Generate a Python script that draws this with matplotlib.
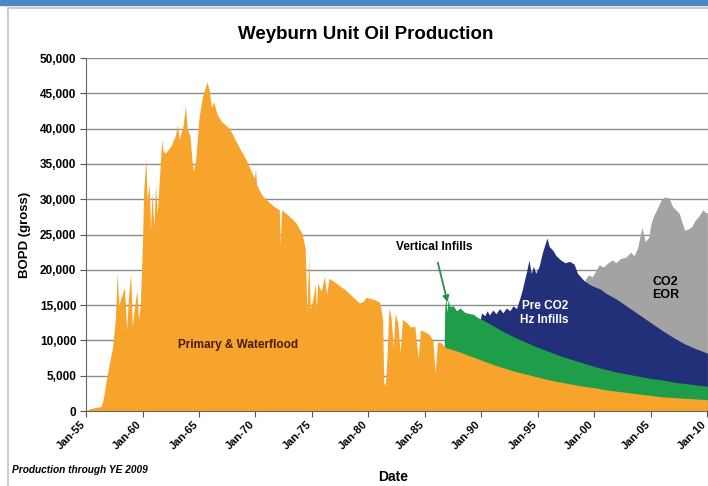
import matplotlib
matplotlib.use('Agg')
from matplotlib import pyplot as plt
from matplotlib.patches import Rectangle
from matplotlib.lines import Line2D
import matplotlib.transforms as mtransforms

plt.rcParams['font.family'] = ['Liberation Sans', 'DejaVu Sans']

# primary & waterflood (BOPD), decimal years
primary_yr = [1955.0, 1955.3, 1955.8, 1956.3, 1956.5, 1956.8, 1957.1, 1957.35, 1957.6, 1957.75,
              1957.9, 1958.1, 1958.4, 1958.6, 1958.75, 1958.95, 1959.1, 1959.3, 1959.5, 1959.65,
              1959.8, 1960.0, 1960.1, 1960.3, 1960.4, 1960.6, 1960.7, 1960.85, 1961.0, 1961.15,
              1961.3, 1961.5, 1961.7, 1961.8, 1962.0, 1962.5, 1962.9, 1963.1, 1963.25, 1963.6,
              1963.8, 1963.95, 1964.2, 1964.35, 1964.5, 1964.7, 1965.0, 1965.3, 1965.7, 1965.9,
              1966.1, 1966.3, 1966.6, 1967.0, 1967.7, 1968.5, 1969.2, 1969.6, 1969.9, 1970.0,
              1970.1, 1970.6, 1971.0, 1971.6, 1972.1, 1972.2, 1972.3, 1972.7, 1973.2, 1973.6,
              1974.1, 1974.4, 1974.55, 1974.7, 1974.85, 1975.1, 1975.3, 1975.4, 1975.5, 1975.8,
              1976.1, 1976.3, 1976.5, 1976.8, 1977.4, 1978.0, 1978.6, 1979.2, 1979.5, 1979.8,
              1980.5, 1981.0, 1981.25, 1981.35, 1981.5, 1981.65, 1981.8, 1982.0, 1982.2, 1982.35,
              1982.6, 1982.8, 1983.0, 1983.4, 1983.7, 1984.1, 1984.4, 1984.6, 1985.0, 1985.4,
              1985.7, 1985.9, 1986.1, 1986.5, 1986.7,
              1987, 1988, 1989, 1990, 1991, 1992, 1993, 1994, 1995, 1996, 1997, 1998,
              1999, 2000, 2001, 2002, 2003, 2004, 2005, 2006, 2007, 2008, 2009, 2010]
primary_bopd = [0, 300, 500, 600, 1500, 4400, 7000, 9000, 13000, 19500,
                15000, 16000, 17500, 11500, 16000, 19500, 12000, 15000, 17000, 13000,
                15000, 24000, 31000, 35800, 30000, 32000, 25500, 31000, 26000, 32000,
                28000, 33000, 38500, 37000, 36500, 37500, 39000, 40500, 38500, 40500,
                43300, 40000, 39000, 36000, 34000, 35500, 41500, 44500, 46600, 45500,
                43000, 43800, 42000, 41000, 40000, 37500, 35500, 34000, 33000, 34300,
                32000, 30500, 29900, 29000, 28500, 23500, 28500, 28000, 27300, 26600,
                25200, 23000, 14000, 21700, 14500, 16000, 18000, 14500, 18100, 17000,
                19000, 16500, 18800, 18500, 17800, 17100, 16200, 15300, 15500, 16100,
                15800, 15400, 13000, 4000, 3700, 8000, 14600, 13200, 9000, 13800,
                12500, 8200, 13000, 12500, 11900, 12000, 7500, 11500, 11200, 10800,
                10000, 5400, 9800, 9600, 9100,
                8900, 8400, 7800, 7200, 6600, 6100, 5600, 5200, 4800, 4400, 4100, 3800,
                3500, 3300, 3000, 2800, 2600, 2400, 2200, 2000, 1900, 1800, 1700, 1600]

# cumulative with vertical infills
vert_yr = [1986.7, 1986.75, 1986.85, 1986.95, 1987.05, 1987.2, 1987.5, 1987.8, 1988.1, 1988.5,
           1988.9, 1989.3, 1989.6, 1990, 1991, 1992, 1993, 1994, 1995, 1996, 1997, 1998,
           1999, 2000, 2001, 2002, 2003, 2004, 2005, 2006, 2007, 2008, 2009, 2010]
vert_total = [9100, 14500, 16100, 14000, 15800, 14800, 14900, 14200, 14600, 14000,
              13800, 13700, 13300, 13000, 12100, 11200, 10400, 9700, 9000, 8400, 7800, 7300,
              6800, 6300, 5900, 5500, 5200, 4900, 4600, 4400, 4100, 3900, 3700, 3500]

# cumulative with pre-CO2 horizontal infills
hz_yr = [1989.9, 1990.0, 1990.3, 1990.5, 1990.7, 1991.0, 1991.3, 1991.6, 1991.9, 1992.2,
         1992.5, 1992.8, 1993.1, 1993.4, 1993.6, 1993.8, 1994.0, 1994.2, 1994.4, 1994.6,
         1994.8, 1995.1, 1995.4, 1995.6, 1995.8, 1996.0, 1996.3, 1996.6, 1997.0, 1997.4,
         1997.8, 1998.2, 1998.5, 1999.0, 1999.5, 2000.0, 2000.5, 2001, 2002, 2003, 2004,
         2005, 2006, 2007, 2008, 2009, 2010]
hz_total = [13000, 13900, 13500, 14200, 13600, 14300, 13800, 14500, 13900, 14600,
            14200, 14900, 14500, 16000, 17100, 18500, 19800, 21400, 19500, 20500,
            19500, 20500, 22500, 23500, 24500, 23300, 22800, 22000, 21400, 21000,
            21200, 20800, 19500, 18600, 18000, 17600, 17300, 16700, 15800, 14700, 13600,
            12500, 11400, 10400, 9500, 8800, 8200]

# cumulative with CO2 EOR (total unit)
co2_yr = [1999.2, 1999.5, 1999.8, 2000.1, 2000.4, 2000.8, 2001.2, 2001.6, 2001.9, 2002.3,
          2002.8, 2003.2, 2003.5, 2003.8, 2004.0, 2004.2, 2004.5, 2004.8, 2005.0, 2005.2,
          2005.5, 2005.9, 2006.2, 2006.6, 2006.9, 2007.2, 2007.5, 2007.8, 2008.0, 2008.3,
          2008.6, 2008.9, 2009.2, 2009.6, 2009.9, 2010.0]
co2_total = [18700, 19300, 19000, 19800, 20700, 20400, 21000, 21400, 21000, 21600,
             21800, 22500, 22000, 23000, 24500, 26000, 24000, 24600, 26500, 27500,
             28500, 29900, 30300, 30200, 29000, 28500, 28000, 26500, 25600, 25800,
             26100, 27000, 27500, 28500, 28000, 28200]

tick_years = [1955, 1960, 1965, 1970, 1975, 1980, 1985, 1990, 1995, 2000, 2005, 2010]
tick_names = ['Jan-55', 'Jan-60', 'Jan-65', 'Jan-70', 'Jan-75', 'Jan-80', 'Jan-85',
              'Jan-90', 'Jan-95', 'Jan-00', 'Jan-05', 'Jan-10']
y_ticks = list(range(0, 50001, 5000))

fig = plt.figure(figsize=(7.08, 4.86), dpi=100)

# marco de la figura
fig.patches.append(Rectangle((0, 0.989), 1, 0.011, transform=fig.transFigure,
                             color='#4f86c6', zorder=0))
fig.lines.append(Line2D([0.012, 0.012], [0, 0.984], transform=fig.transFigure,
                        color='#c4c4c4', lw=1.2))
fig.lines.append(Line2D([0.012, 1], [0.984, 0.984], transform=fig.transFigure,
                        color='#c4c4c4', lw=1.2))

ax = fig.add_axes([0.1215, 0.1543, 0.8785, 0.7263])

ax.fill_between(co2_yr, 0, co2_total, color='#a3a3a3', lw=0, zorder=2)
ax.fill_between(hz_yr, 0, hz_total, color='#22307a', lw=0, zorder=3)
ax.fill_between(vert_yr, 0, vert_total, color='#1e9e48', lw=0, zorder=4)
ax.fill_between(primary_yr, 0, primary_bopd, color='#f6a42b', lw=0, zorder=5)

ax.set_xlim(1955, 2010.05)
ax.set_ylim(0, 50000)
ax.set_yticks(y_ticks)
ax.set_yticklabels([f'{v:,}' for v in y_ticks], fontsize=8.5, fontweight='bold')
ax.set_xticks(tick_years)
ax.set_xticklabels([])
# etiquetas del eje x corridas un poco a la izquierda como en el original
desplazar = mtransforms.ScaledTranslation(-6 / 100, -8 / 100, fig.dpi_scale_trans)
for yr, nom in zip(tick_years, tick_names):
    ax.text(yr, 0, nom, transform=ax.get_xaxis_transform() + desplazar, rotation=45,
            ha='right', va='top', rotation_mode='anchor', fontsize=8, fontweight='bold')
ax.tick_params(axis='both', direction='out', length=4, color='#555555', pad=3)
ax.grid(axis='y', color='#8c8c8c', lw=1, zorder=1)
ax.set_axisbelow(True)
for s in ['top', 'right']:
    ax.spines[s].set_visible(False)
ax.spines['left'].set_color('#666666')
ax.spines['bottom'].set_color('#666666')
ax.spines['bottom'].set_zorder(6)

ax.set_ylabel('BOPD (gross)', fontsize=9.5, fontweight='bold', labelpad=6)
fig.text(0.555, 0.0185, 'Date', fontsize=10, fontweight='bold', ha='center', va='center')
fig.text(0.516, 0.928, 'Weyburn Unit Oil Production', fontsize=13.5, fontweight='bold',
         ha='center', va='center')
fig.text(0.017, 0.033, 'Production through YE 2009', fontsize=7.3, fontweight='bold',
         style='italic', ha='left', va='center')

# etiquetas de las areas
ax.text(1968.5, 9300, 'Primary & Waterflood', fontsize=8.5, fontweight='bold',
        color='#4a1a0c', ha='center', va='center', zorder=7)
ax.text(1995.6, 13900, 'Pre CO2\nHz Infills', fontsize=8.5, fontweight='bold', color='white',
        ha='center', va='center', zorder=7, linespacing=1.25)
ax.text(2006.3, 17400, 'CO2\nEOR', fontsize=9, fontweight='bold', color='black',
        ha='center', va='center', zorder=7, linespacing=1.1)
ax.annotate('Vertical Infills', xy=(1987.0, 15400), xytext=(1985.8, 23200),
            fontsize=8.5, fontweight='bold', ha='center', va='center', zorder=7,
            arrowprops=dict(arrowstyle='-|>', color='#2a8f45', lw=1.3,
                            shrinkA=5, shrinkB=0, mutation_scale=9))

fig.savefig('out.png', dpi=100)
